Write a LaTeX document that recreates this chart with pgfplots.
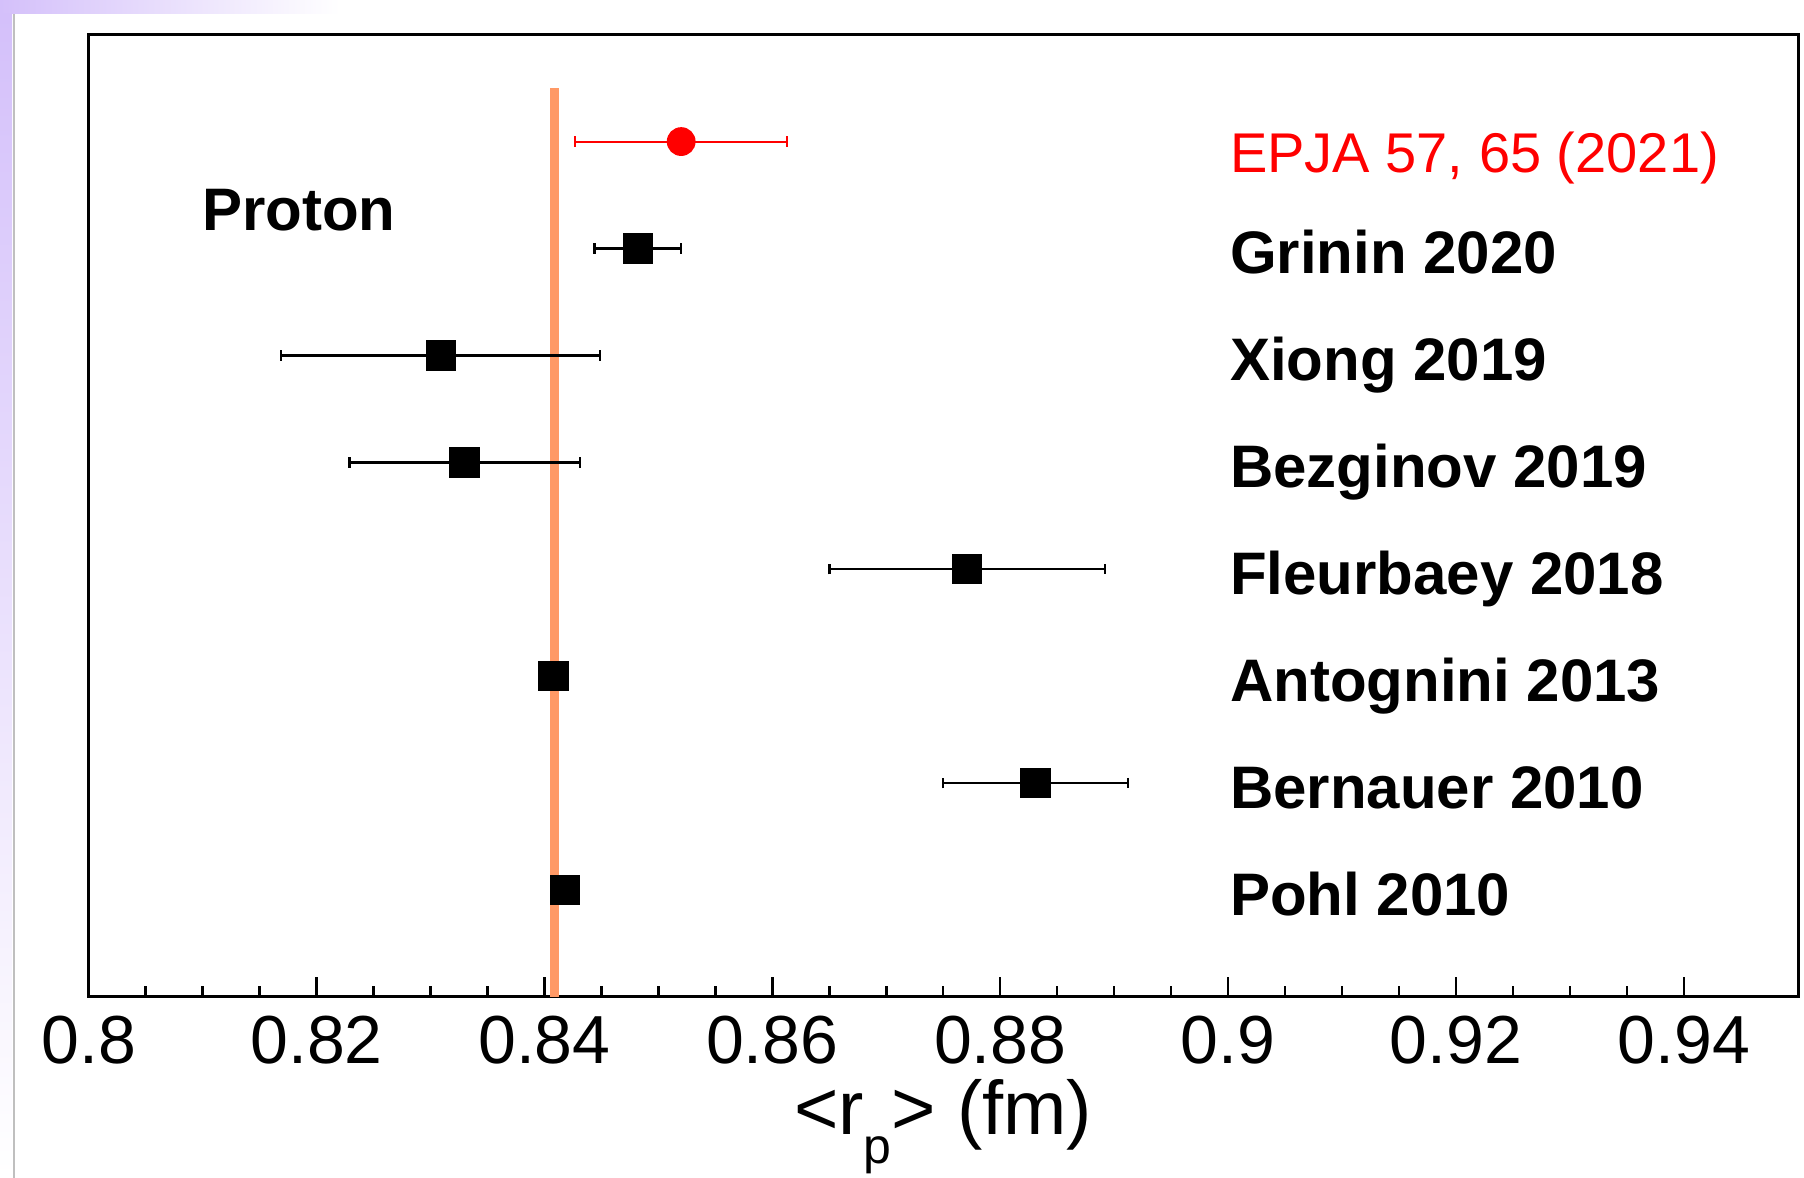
\documentclass[border=0pt]{standalone}
\usepackage{fontspec}
\setmainfont{Liberation Sans}
\usepackage{pgfplots}
\usepackage{pgfplotstable}
\pgfplotsset{compat=1.18}
\definecolor{band}{RGB}{255,153,102}
\definecolor{lav}{RGB}{212,192,250}
\pgfplotstableread{
x y ex
0.852 8 0.0093
}\epja
\pgfplotstableread{
x y ex
0.8482 7 0.0038
0.8309 6 0.0140
0.8330 5 0.0101
0.8771 4 0.0121
0.8408 3 0.0004
0.8831 2 0.0081
0.8418 1 0.0007
}\others
\begin{document}
\begin{tikzpicture}
\path[use as bounding box] (0pt,0pt) rectangle (451pt,294.5pt);
\shade[left color=lav, right color=white] (0pt,291pt) rectangle (85pt,294.5pt);
\shade[top color=lav, bottom color=white] (0pt,0pt) rectangle (3pt,291pt);
\draw[gray!50, line width=0.4pt] (3.5pt,0pt) -- (3.5pt,291pt);
\begin{axis}[
  at={(22.15pt,45.25pt)}, anchor=south west, scale only axis,
  width=427.35pt, height=240.6pt,
  xmin=0.8, xmax=0.95, ymin=0, ymax=9,
  axis line style={line width=0.75pt},
  xtick={0.8,0.82,0.84,0.86,0.88,0.9,0.92,0.94},
  xticklabels={0.8,0.82,0.84,0.86,0.88,0.9,0.92,0.94},
  minor x tick num=3,
  ytick=\empty,
  xtick pos=left,
  tick align=inside,
  major tick length=5pt,
  minor tick length=2.7pt,
  tick style={line width=0.6pt, black},
  xticklabel style={font=\fontsize{17}{19}\selectfont, anchor=base, yshift=-16.75pt, inner sep=0pt},
  xlabel={<r\raisebox{-0.38em}{\fontsize{12.5}{12.5}\selectfont p}> (fm)},
  xlabel style={at={(axis description cs:0.5,0)}, anchor=base, yshift=-34.3pt, inner sep=0pt, font=\fontsize{19}{21}\selectfont},
  clip=false,
]
\addplot[fill=band, draw=none] coordinates {(0.84048,0) (0.84126,0) (0.84126,8.5) (0.84048,8.5)} -- cycle;
\addplot[black, only marks, mark=square*, mark size=3.6pt,
  error bars/.cd, x dir=both, x explicit,
  error bar style={line width=0.6pt, black},
  error mark options={line width=0.6pt, mark size=1.3pt, rotate=90}]
  table[x=x, y=y, x error=ex] {\others};
\addplot[red, only marks, mark=*, mark size=3.4pt,
  error bars/.cd, x dir=both, x explicit,
  error bar style={line width=0.5pt, red},
  error mark options={line width=0.5pt, mark size=1.3pt, rotate=90}]
  table[x=x, y=y, x error=ex] {\epja};
\node[anchor=base west, inner sep=0pt, text=red, font=\fontsize{14}{16}\selectfont] at (axis cs:0.9001,7.71) {EPJA 57, 65 (2021)};
\node[anchor=base west, inner sep=0pt, font=\fontsize{15}{17}\selectfont\bfseries] at (axis cs:0.9001,6.765) {Grinin 2020};
\node[anchor=base west, inner sep=0pt, font=\fontsize{15}{17}\selectfont\bfseries] at (axis cs:0.9001,5.765) {Xiong 2019};
\node[anchor=base west, inner sep=0pt, font=\fontsize{15}{17}\selectfont\bfseries] at (axis cs:0.9001,4.765) {Bezginov 2019};
\node[anchor=base west, inner sep=0pt, font=\fontsize{15}{17}\selectfont\bfseries] at (axis cs:0.9001,3.765) {Fleurbaey 2018};
\node[anchor=base west, inner sep=0pt, font=\fontsize{15}{17}\selectfont\bfseries] at (axis cs:0.9001,2.765) {Antognini 2013};
\node[anchor=base west, inner sep=0pt, font=\fontsize{15}{17}\selectfont\bfseries] at (axis cs:0.9001,1.765) {Bernauer 2010};
\node[anchor=base west, inner sep=0pt, font=\fontsize{15}{17}\selectfont\bfseries] at (axis cs:0.9001,0.765) {Pohl 2010};
\node[anchor=base west, inner sep=0pt, font=\fontsize{15}{17}\selectfont\bfseries] at (axis cs:0.8099,7.17) {Proton};
\end{axis}
\end{tikzpicture}
\end{document}
